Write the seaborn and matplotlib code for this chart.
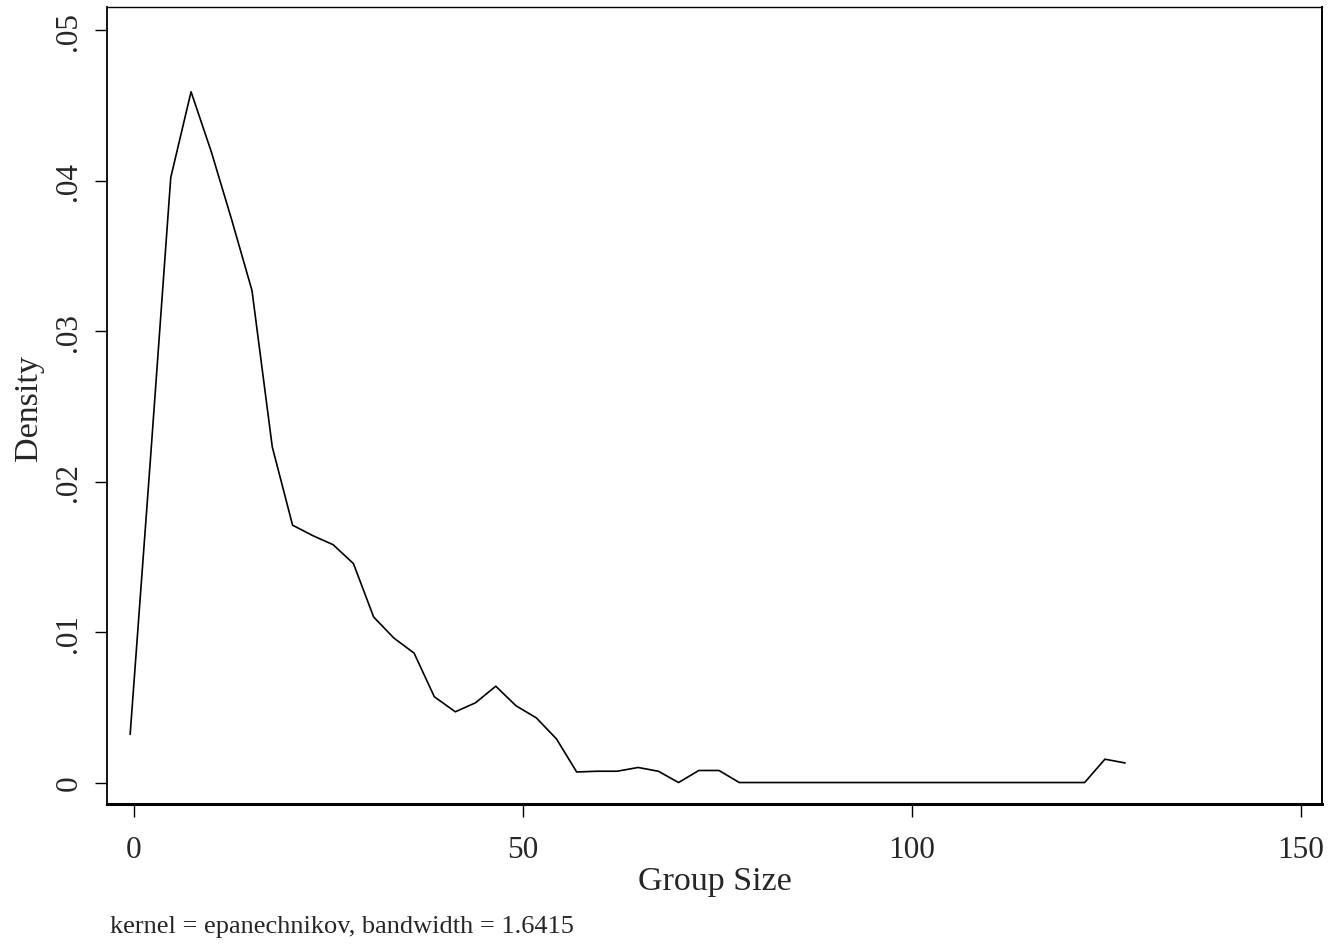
import matplotlib
matplotlib.use("Agg")
import matplotlib.pyplot as plt
import seaborn as sns
import pandas as pd

# Kernel density estimate of group size, evaluated on 50 grid points
group_size = [
    -0.5, 2.11, 4.72, 7.33, 9.94, 12.55, 15.16, 17.77, 20.38, 23.0,
    25.6, 28.2, 30.8, 33.4, 36.0, 38.6, 41.3, 43.9, 46.5, 49.1,
    51.7, 54.3, 56.9, 59.5, 62.1, 64.8, 67.4, 70.0, 72.6, 75.2,
    77.8, 80.4, 83.0, 85.6, 88.2, 90.8, 93.5, 96.1, 98.7, 101.3,
    103.9, 106.5, 109.1, 111.7, 114.3, 117.0, 119.6, 122.2, 124.8, 127.4,
]
density = [
    0.0032, 0.0215, 0.0402, 0.0459, 0.0419, 0.0374, 0.0327, 0.0223, 0.0171, 0.0164,
    0.0158, 0.01455, 0.0110, 0.0096, 0.0086, 0.0057, 0.0047, 0.0053, 0.0064, 0.0051,
    0.0043, 0.0029, 0.0007, 0.00075, 0.00075, 0.0010, 0.00075, 0.0, 0.0008, 0.0008,
    0.0, 0.0, 0.0, 0.0, 0.0, 0.0, 0.0, 0.0, 0.0, 0.0,
    0.0, 0.0, 0.0, 0.0, 0.0, 0.0, 0.0, 0.0, 0.00155, 0.0013,
]

x_ticks = [0, 50, 100, 150]
x_tick_labels = ["0", "50", "100", "150"]
y_ticks = [0, 0.01, 0.02, 0.03, 0.04, 0.05]
y_tick_labels = ["0", ".01", ".02", ".03", ".04", ".05"]

x_label = "Group Size"
y_label = "Density"
note = "kernel = epanechnikov, bandwidth = 1.6415"

df = pd.DataFrame({"size": group_size, "density": density})

sns.set_theme(style="ticks")
plt.rcParams["font.family"] = ["Liberation Serif", "DejaVu Serif"]

fig = plt.figure(figsize=(13.33, 9.45), dpi=100)
ax = fig.add_axes([0.0803, 0.1481, 0.9114, 0.8434])

sns.lineplot(data=df, x="size", y="density", color="black", linewidth=1.2,
             ax=ax, sort=False)

ax.set_xlim(-3.47, 152.7)
ax.set_ylim(-0.00143, 0.05153)

ax.set_xticks(x_ticks)
ax.set_xticklabels(x_tick_labels, fontsize=22.5)
ax.set_yticks(y_ticks)
ax.set_yticklabels(y_tick_labels, fontsize=22.5, rotation=90, va="center")

ax.tick_params(axis="both", direction="out", length=9, width=1.0, color="black")
ax.tick_params(axis="x", pad=13)
ax.tick_params(axis="y", pad=8)

for side, lw in {"bottom": 2.2, "left": 1.3, "top": 1.0, "right": 1.4}.items():
    ax.spines[side].set_visible(True)
    ax.spines[side].set_linewidth(lw)
    ax.spines[side].set_color("black")

ax.set_xlabel(x_label, fontsize=24.5, va="center", ha="center")
ax.xaxis.set_label_coords(715 / 1333, 1 - 882 / 945, transform=fig.transFigure)
ax.set_ylabel(y_label, fontsize=24.5, va="center", ha="center")
ax.yaxis.set_label_coords(29 / 1333, 1 - 408 / 945, transform=fig.transFigure)

fig.text(110 / 1333, 1 - 927 / 945, note, fontsize=19, ha="left", va="center")

fig.savefig("out.png", dpi=100, facecolor="white")
